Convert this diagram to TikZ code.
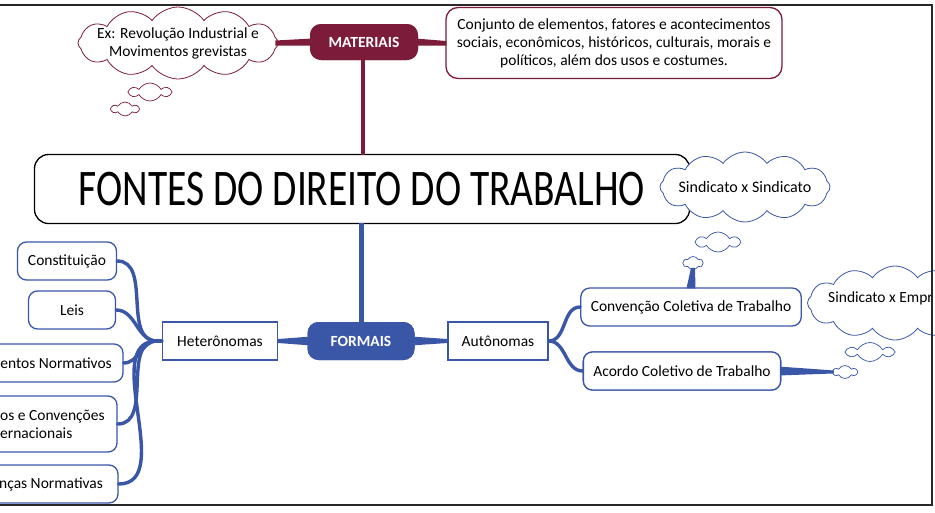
\documentclass[tikz,border=0pt]{standalone}
\usepackage{fontspec}
\setmainfont{Carlito}
\usetikzlibrary{shapes.symbols,calc}
\definecolor{maroon}{RGB}{125,27,58}
\definecolor{fblue}{RGB}{58,86,166}
\definecolor{framec}{RGB}{40,40,40}
\begin{document}
\begin{tikzpicture}[x=1pt,y=-1pt,
  lbl/.style={font=\fontsize{15.5}{18}\selectfont},
  leaf/.style={lbl,draw=fblue,line width=1.3pt,rounded corners=9pt,fill=white,minimum height=38pt,inner xsep=10pt,inner ysep=2pt},
  sqbox/.style={lbl,draw=fblue,line width=1.3pt,fill=white,minimum height=38pt,inner xsep=8pt},
  hub/.style={font=\fontsize{15.5}{18}\selectfont\bfseries,text=white,rounded corners=11pt,minimum height=36pt},
  mycloud/.style={cloud,cloud puffs=12,cloud puff arc=110,cloud ignores aspect,draw,line width=0.8pt,fill=white,inner sep=0pt,align=center},
  puff/.style={cloud,cloud puffs=6,cloud puff arc=120,cloud ignores aspect,draw,line width=0.7pt,fill=white,inner sep=0pt},
  bconn/.style={draw=fblue,line width=3.4pt,line cap=round}]
\useasboundingbox (0,0) rectangle (935,512);
\begin{scope}
\clip (0,0) rectangle (935,512);
\fill[white] (0,0) rectangle (935,512);

% ---------- top (materiais) ----------
\node[hub,fill=maroon,minimum width=108pt] (mat) at (364,42) {MATERIAIS};
\node[mycloud,draw=maroon,minimum width=200pt,minimum height=72pt,inner xsep=-11pt,inner ysep=-2pt,lbl] (ex) at (178,43) {Ex: Revolução Industrial e\\Movimentos grevistas};
\node[puff,draw=maroon,minimum width=40pt,minimum height=18pt] (p1) at (150,92) {};
\node[puff,draw=maroon,minimum width=27pt,minimum height=14pt] (p2) at (125,109) {};
\node[lbl,draw=maroon,line width=1.3pt,rounded corners=12pt,fill=white,minimum width=336pt,minimum height=71pt,align=center] (conj) at (614,43)
  {Conjunto de elementos, fatores e acontecimentos\\sociais, econômicos, históricos, culturais, morais e\\políticos, além dos usos e costumes.};

% ---------- central ----------
\node[draw=black,line width=1.3pt,rounded corners=14pt,fill=white,minimum width=655pt,minimum height=69pt] (main) at (362,189)
  {\scalebox{1}[1.3]{\fontsize{39.5}{42}\selectfont FONTES DO DIREITO DO TRABALHO}};

\fill[maroon] ($(mat.south)+(-2.8,-2)$) rectangle ($(main.north)+(2.8,1)$);
\fill[maroon] ($(ex.east)+(-3,-2.5)$) -- ($(mat.west)+(3,-3.5)$) -- ($(mat.west)+(3,3.5)$) -- ($(ex.east)+(-3,2.5)$) -- cycle;
\fill[maroon] ($(mat.east)+(-3,-3.5)$) -- ($(conj.west)+(1,-2)$) -- ($(conj.west)+(1,2.5)$) -- ($(mat.east)+(-3,3.5)$) -- cycle;
\node[hub,fill=maroon,minimum width=108pt] at (mat) {MATERIAIS};

% ---------- formais ----------
\node[hub,fill=fblue,minimum width=107pt,minimum height=38pt] (form) at (361,341) {FORMAIS};
\fill[fblue] ($(main.south)+(-2.8,-1)$) rectangle ($(form.north)+(2.8,2)$);
\node[sqbox,minimum width=115pt] (het) at (220,341) {Heterônomas};
\node[sqbox,minimum width=100pt] (aut) at (498,341) {Autônomas};
\fill[fblue] ($(het.east)+(0,-2)$) -- ($(form.west)+(4,-4.5)$) -- ($(form.west)+(4,4.5)$) -- ($(het.east)+(0,2)$) -- cycle;
\fill[fblue] ($(form.east)+(-4,-4.5)$) -- ($(aut.west)+(0,-2)$) -- ($(aut.west)+(0,2)$) -- ($(form.east)+(-4,4.5)$) -- cycle;
\node[hub,fill=fblue,minimum width=107pt,minimum height=38pt] at (form) {FORMAIS};

% ---------- heteronomas leaves ----------
\node[leaf,minimum width=99pt] (const) at (67,261) {Constituição};
\node[leaf,minimum width=87pt] (leis) at (72,310) {Leis};
\node[leaf,minimum width=180pt] (regul) at (33,363) {};
\node[lbl,anchor=east,inner sep=0pt] (regulT) at (112,363) {entos Normativos};
\node[leaf,minimum width=174pt,minimum height=56pt] (trat) at (30,424) {};
\node[lbl,anchor=west,inner sep=0pt,align=left] (tratT) at (0,424) {os e Convenções\\ernacionais};
\node[leaf,minimum width=180pt] (sent) at (28,484) {};
\node[lbl,anchor=west,inner sep=0pt] (sentT) at (-1,484) {nças Normativas};
\coordinate (hj) at ($(het.west)+(-5,0)$);
\foreach \n in {const,leis,regul,trat,sent}{
  \draw[bconn] (\n.east) to[out=0,in=180] (hj);
}
\draw[bconn] (hj) -- (het.west);

% ---------- autonomas leaves ----------
\node[leaf,minimum width=218pt] (conv) at (691,307) {Convenção Coletiva de Trabalho};
\node[leaf,minimum width=196pt] (acor) at (682,371) {Acordo Coletivo de Trabalho};
\draw[bconn] (aut.east) to[out=0,in=180] (conv.west);
\draw[bconn] (aut.east) to[out=0,in=180] (acor.west);

% ---------- clouds (blue) ----------
\node[mycloud,draw=fblue,minimum width=170pt,minimum height=70pt,inner xsep=-12pt,font=\fontsize{16}{18}\selectfont] (sxs) at (745,187) {Sindicato x Sindicato};
\node[puff,draw=fblue,minimum width=42pt,minimum height=20pt] (p3) at (718,242) {};
\node[puff,draw=fblue,minimum width=20pt,minimum height=13pt] (p4) at (693,263) {};
\fill[fblue] ($(p4.south)+(-2,-2)$) -- ($(conv.north)+(-4.5,1)$) -- ($(conv.north)+(4.5,1)$) -- ($(p4.south)+(2,-2)$) -- cycle;

\node[mycloud,draw=fblue,minimum width=175pt,minimum height=74pt] (sxe) at (895,303) {};
\node[lbl,anchor=west,inner sep=0pt] (sxeT) at (828,298) {Sindicato x Empr};
\node[puff,draw=fblue,minimum width=45pt,minimum height=19pt] (p5) at (870,352) {};
\node[puff,draw=fblue,minimum width=24pt,minimum height=13pt] (p6) at (845,372) {};
\fill[fblue] ($(acor.east)+(-3,-4.5)$) -- ($(p6.west)+(2,-1.5)$) -- ($(p6.west)+(2,1.5)$) -- ($(acor.east)+(-3,4.5)$) -- cycle;
\node[leaf,minimum width=196pt] at (acor) {Acordo Coletivo de Trabalho};

% ---------- frame ----------
\draw[framec,line width=1.6pt] (0,5) -- (932,5) -- (932,505) -- (0,505);
\end{scope}
\end{tikzpicture}
\end{document}
